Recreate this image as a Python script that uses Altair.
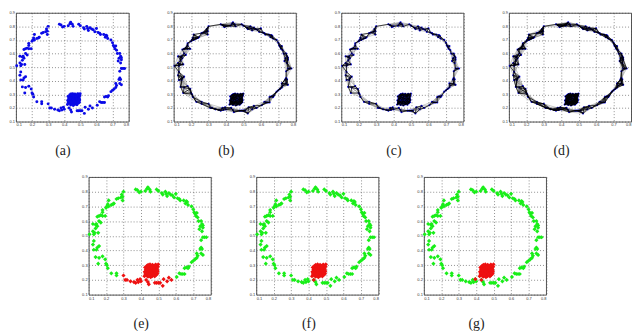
import altair as alt
import pandas as pd

# points, clockwise round the ring, starting at the top
ring_top = [(0.37,0.815),(0.38,0.81),(0.39,0.795),(0.40,0.80),(0.425,0.805),(0.435,0.82),(0.44,0.83),(0.45,0.815),(0.455,0.80),
            (0.49,0.815),(0.50,0.805),(0.52,0.79),(0.525,0.78),(0.54,0.80),(0.545,0.785),(0.55,0.77),(0.56,0.79),(0.57,0.78),
            (0.58,0.775),(0.59,0.76),(0.60,0.785),(0.61,0.755),(0.62,0.75),(0.625,0.74),(0.645,0.74),(0.655,0.72),(0.66,0.735),
            (0.665,0.73),(0.67,0.71)]
ring_right = [(0.69,0.70),(0.70,0.68),(0.705,0.66),(0.71,0.65),(0.72,0.655),(0.715,0.635),(0.725,0.625),(0.73,0.60),(0.745,0.60),
              (0.75,0.58),(0.755,0.57),(0.74,0.565),(0.755,0.555),(0.735,0.545),(0.75,0.53),(0.755,0.49),(0.765,0.49),(0.775,0.49),
              (0.745,0.47),(0.745,0.42),(0.74,0.41),(0.75,0.41),(0.745,0.38),(0.755,0.37),(0.72,0.38),(0.725,0.365),(0.72,0.35),
              (0.71,0.34),(0.70,0.33),(0.69,0.32),(0.675,0.29),(0.67,0.28),(0.66,0.285),(0.65,0.28),(0.65,0.24),(0.64,0.24),
              (0.63,0.24),(0.62,0.245),(0.605,0.22)]
lower_arc = [(0.575,0.20),(0.56,0.215),(0.55,0.19),(0.53,0.205),(0.525,0.16),(0.51,0.18),(0.50,0.18),(0.49,0.18),(0.48,0.18),
             (0.445,0.17),(0.44,0.185),(0.43,0.20),(0.40,0.19),(0.395,0.205),(0.385,0.185),(0.38,0.20),(0.37,0.18),(0.36,0.185),
             (0.34,0.19),(0.32,0.20),(0.31,0.20),(0.30,0.23)]
ring_left = [(0.26,0.23),(0.26,0.245),(0.23,0.245),(0.21,0.28),(0.205,0.30),(0.20,0.31),(0.195,0.34),(0.18,0.36),(0.16,0.35),
             (0.155,0.31),(0.14,0.355),(0.15,0.42),(0.16,0.43),(0.145,0.405),(0.13,0.405),(0.125,0.44),(0.13,0.465),(0.105,0.51),
             (0.13,0.51),(0.135,0.52),(0.125,0.53),(0.155,0.52),(0.14,0.55),(0.15,0.565),(0.14,0.575),(0.125,0.58),(0.145,0.58),
             (0.17,0.59),(0.16,0.60),(0.15,0.63),(0.16,0.635),(0.17,0.64),(0.18,0.635),(0.195,0.635),(0.18,0.66),(0.18,0.675),
             (0.20,0.69),(0.205,0.70),(0.21,0.715),(0.215,0.70),(0.23,0.71),(0.24,0.715),(0.245,0.72),(0.215,0.74),(0.26,0.75),
             (0.27,0.755),(0.285,0.76),(0.295,0.74),(0.295,0.765),(0.29,0.78),(0.30,0.80)]
cluster = [(0.42,0.225),(0.425,0.24),(0.422,0.255),(0.428,0.27),(0.424,0.285),(0.43,0.232),(0.433,0.25),(0.431,0.262),(0.436,0.278),
           (0.434,0.295),(0.44,0.222),(0.438,0.238),(0.442,0.252),(0.44,0.268),(0.443,0.284),(0.441,0.302),(0.447,0.23),(0.45,0.245),
           (0.446,0.26),(0.451,0.274),(0.448,0.29),(0.452,0.305),(0.456,0.218),(0.458,0.236),(0.455,0.25),(0.46,0.266),(0.457,0.28),
           (0.46,0.296),(0.465,0.226),(0.463,0.242),(0.468,0.256),(0.465,0.272),(0.469,0.288),(0.466,0.303),(0.472,0.232),(0.475,0.248),
           (0.471,0.263),(0.476,0.278),(0.473,0.295),(0.479,0.224),(0.481,0.24),(0.478,0.256),(0.483,0.27),(0.48,0.286),(0.484,0.304),
           (0.487,0.234),(0.489,0.25),(0.486,0.264),(0.491,0.28),(0.488,0.297),(0.494,0.242),(0.496,0.258),(0.493,0.272),(0.497,0.29),
           (0.499,0.305),(0.427,0.248),(0.437,0.244),(0.445,0.276),(0.454,0.262),(0.462,0.25),(0.47,0.24),(0.477,0.266),(0.485,0.248),
           (0.492,0.262),(0.435,0.268),(0.449,0.238),(0.459,0.286),(0.474,0.284),(0.482,0.296),(0.444,0.296)]
stray_f = [(0.43,0.20)]
stray_g = [(0.43,0.20),(0.395,0.205)]

ring = ring_top + ring_right + lower_arc + ring_left
green_e = ring_top + ring_right + ring_left
red_e = lower_arc + cluster
x_ticks = [0.1,0.2,0.3,0.4,0.5,0.6,0.7,0.8]
y_ticks = [0.1,0.2,0.3,0.4,0.5,0.6,0.7,0.8,0.9]
neighbours = {"(b)": 4, "(c)": 3, "(d)": 5}


def table(points):
    return pd.DataFrame(points, columns=["x", "y"])


def nearest(points, k, chain=False):
    # the graph: optionally the points in order, plus each point's k nearest neighbours
    pairs = set()
    n = len(points)
    if chain:
        for i in range(n):
            pairs.add(tuple(sorted((i, (i + 1) % n))))
    for i, (a, b) in enumerate(points):
        order = sorted(range(n), key=lambda j: (points[j][0]-a)**2 + (points[j][1]-b)**2)
        for j in order[1:k+1]:
            pairs.add(tuple(sorted((i, j))))
    return pd.DataFrame([{"x": points[i][0], "y": points[i][1],
                          "x2": points[j][0], "y2": points[j][1]} for i, j in pairs])


def enc(caption, title_x):
    return dict(
        x=alt.X("x:Q", scale=alt.Scale(domain=[0.1, 0.8], nice=False),
                axis=alt.Axis(values=x_ticks, title=caption, format=".1f", titleX=title_x)),
        y=alt.Y("y:Q", scale=alt.Scale(domain=[0.1, 0.9], nice=False),
                axis=alt.Axis(values=y_ticks, title=None, format=".1f")),
    )


def dots(points, color, caption, title_x, size, shape="circle"):
    return alt.Chart(table(points)).mark_point(filled=True, color=color, size=size, shape=shape,
                                               opacity=1).encode(**enc(caption, title_x))


def rules(frame, color, width, caption, title_x):
    return alt.Chart(frame).mark_rule(color=color, strokeWidth=width).encode(
        x2="x2:Q", y2="y2:Q", **enc(caption, title_x))


def panel(layers, w, h):
    return alt.layer(*layers).properties(width=w, height=h)


W, H1, H2 = 123.5, 110, 119
W_A = 114
TX, TX_A = 52.75, 47

row1 = [panel([dots(ring + cluster, "#0a0ae6", "(a)", TX_A, 9)], W_A, H1)]
for cap, k in neighbours.items():
    row1.append(panel([
        rules(nearest(ring, k + 4), "#777777", 0.4, cap, TX),
        dots(ring + cluster, "#0a0ae6", cap, TX, 5),
        rules(nearest(ring, k, chain=True), "#000000", 0.7, cap, TX),
        rules(nearest(cluster, k + 3), "#000000", 0.7, cap, TX),
    ], W, H1))

spacer = alt.Chart(table([(0, 0)])).mark_point(opacity=0).encode(
    x=alt.X("x:Q", axis=None), y=alt.Y("y:Q", axis=None)
).properties(width=27.5, height=H2, view=alt.ViewConfig(stroke=None))

GREEN, RED = "#19ee19", "#ee1111"
row2 = [
    spacer,
    panel([dots(green_e, GREEN, "(e)", TX, 18, "diamond"), dots(red_e, RED, "(e)", TX, 18, "diamond")], W, H2),
    panel([dots(ring, GREEN, "(f)", TX, 18, "diamond"), dots(cluster + stray_f, RED, "(f)", TX, 18, "diamond")], W, H2),
    panel([dots(ring, GREEN, "(g)", TX, 18, "diamond"), dots(cluster + stray_g, RED, "(g)", TX, 18, "diamond")], W, H2),
]

chart = alt.vconcat(
    alt.hconcat(*row1, spacing=45.5, bounds="flush"),
    alt.hconcat(*row2, spacing=45.5, bounds="flush"),
    spacing=16,
).properties(padding=0, background="white").configure_view(
    stroke="#555555", strokeWidth=1
).configure_axis(
    grid=True, gridColor="#444444", gridDash=[1, 2], gridWidth=0.6, gridOpacity=1,
    domain=False, ticks=False, labelFont="Liberation Sans", labelFontSize=4, labelColor="#333333",
    labelPadding=1.5, titleFont="Liberation Serif", titleFontSize=14, titleFontWeight="normal",
    titleColor="#222222", titlePadding=17,
)

chart.save("out.html", embed_options={"renderer": "svg", "actions": False})
